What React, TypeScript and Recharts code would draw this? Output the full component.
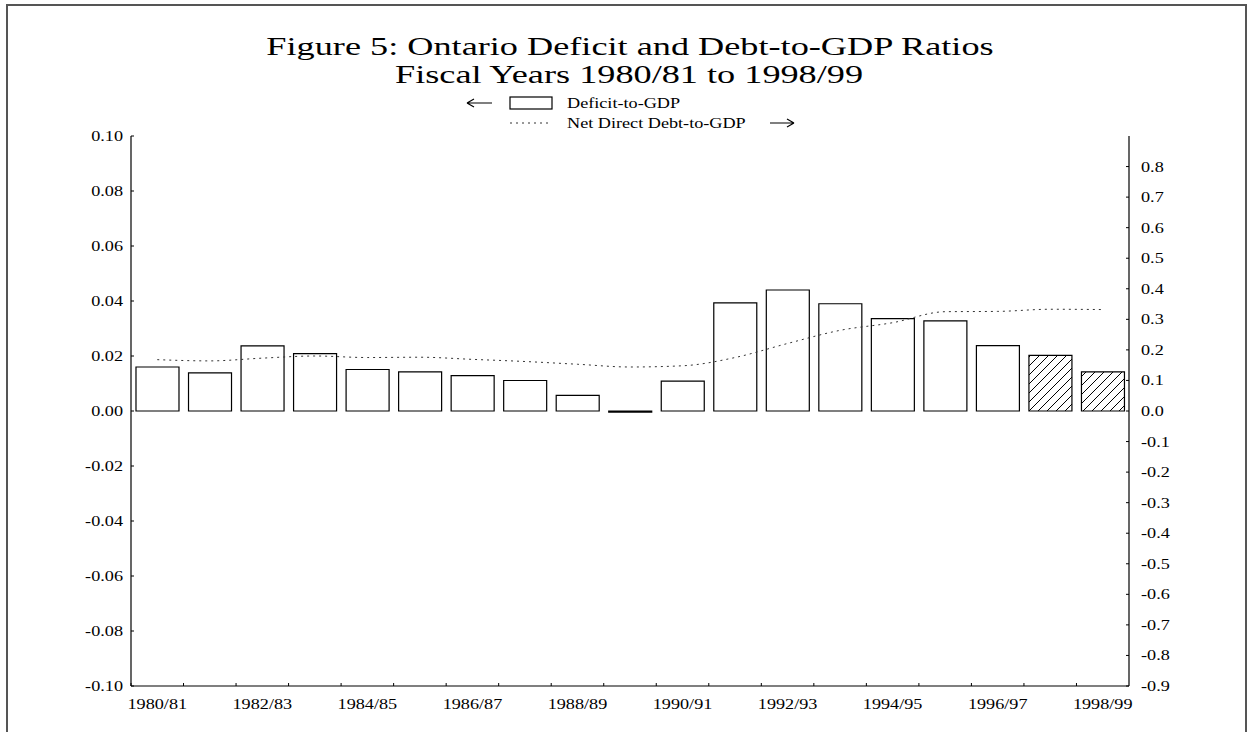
import {
  ComposedChart,
  Bar,
  Line,
  XAxis,
  YAxis,
  Legend,
  Cell,
} from "recharts";

const years = [
  "1980/81", "1981/82", "1982/83", "1983/84", "1984/85", "1985/86", "1986/87",
  "1987/88", "1988/89", "1989/90", "1990/91", "1991/92", "1992/93", "1993/94",
  "1994/95", "1995/96", "1996/97", "1997/98", "1998/99",
];

// deficit-to-GDP, left axis
const deficit = [
  0.016, 0.0139, 0.0237, 0.0209, 0.0151, 0.0142, 0.0129, 0.0111, 0.0057,
  -0.0004, 0.0109, 0.0393, 0.044, 0.039, 0.0336, 0.0328, 0.0238, 0.0202, 0.0142,
];

// net direct debt-to-GDP, right axis
const debt = [
  0.168, 0.164, 0.173, 0.18, 0.175, 0.176, 0.169, 0.162, 0.153, 0.144, 0.148,
  0.175, 0.221, 0.264, 0.289, 0.325, 0.326, 0.333, 0.332,
];

// years drawn hatched
const hatchedYears = ["1997/98", "1998/99"];

const leftTicks = [0.1, 0.08, 0.06, 0.04, 0.02, 0, -0.02, -0.04, -0.06, -0.08, -0.1];
const rightTicks = [0.8, 0.7, 0.6, 0.5, 0.4, 0.3, 0.2, 0.1, 0, -0.1, -0.2, -0.3, -0.4, -0.5, -0.6, -0.7, -0.8, -0.9];

const W = 1253;
const H = 732;
const LEFT_W = 131;
const RIGHT_W = 124;
const TOP = 136;
const X_H = 46;
const BAND = (W - LEFT_W - RIGHT_W) / years.length;
const FONT = "'Liberation Serif', 'Times New Roman', serif";

const data = years.map((year, i) => ({ year, deficit: deficit[i], debt: debt[i] }));

// the original figure's type is stretched sideways
function Txt({ x, y, anchor = "start", size = 14, sx = 1.3, children }: any) {
  return (
    <text
      transform={`translate(${x},${y}) scale(${sx},1)`}
      textAnchor={anchor}
      fontSize={size}
      fontFamily={FONT}
      fill="#000"
    >
      {children}
    </text>
  );
}

function fmt(v: number, d: number) {
  const s = v.toFixed(d);
  return Number(s) === 0 ? (0).toFixed(d) : s;
}

function LeftTick({ x, y, payload }: any) {
  return (
    <g>
      <line x1={x} x2={x + 3} y1={y} y2={y} stroke="#000" />
      <Txt x={x - 8} y={y + 5} anchor="end">{fmt(payload.value, 2)}</Txt>
    </g>
  );
}

function RightTick({ x, y, payload }: any) {
  return (
    <g>
      <line x1={x} x2={x - 3} y1={y} y2={y} stroke="#000" />
      <Txt x={x + 12} y={y + 5}>{fmt(payload.value, 1)}</Txt>
    </g>
  );
}

function XTick({ x, y, payload, index }: any) {
  const bx = x - BAND / 2;
  return (
    <g>
      <line x1={bx} x2={bx} y1={y} y2={y - 3} stroke="#000" />
      {index % 2 === 0 && (
        <Txt x={x} y={y + 23} anchor="middle">{payload.value}</Txt>
      )}
    </g>
  );
}

function LegendBox() {
  return (
    <svg width={W} height={50}>
      <path d="M467,19 H492 M467,19 l7,-4 M467,19 l7,4" stroke="#000" strokeWidth={1.2} fill="none" />
      <rect x={510} y={13} width={42} height={12} fill="#fff" stroke="#000" strokeWidth={1.2} />
      <Txt x={567} y={24}>Deficit-to-GDP</Txt>
      <line x1={510} x2={552} y1={39} y2={39} stroke="#333" strokeDasharray="2 4" />
      <Txt x={567} y={44}>Net Direct Debt-to-GDP</Txt>
      <path d="M770,39 H794 M794,39 l-7,-4 M794,39 l-7,4" stroke="#000" strokeWidth={1.2} fill="none" />
    </svg>
  );
}

export default function App() {
  return (
    <div style={{ position: "absolute", left: 0, top: 0, width: W, height: H, background: "#fff", overflow: "hidden" }}>
      <div
        style={{
          position: "absolute",
          left: 6,
          top: 4,
          width: 1241,
          height: 800,
          border: "2px solid #555",
          boxSizing: "border-box",
        }}
      />
      <svg style={{ position: "absolute", left: 0, top: 0 }} width={W} height={100}>
        <Txt x={630} y={55} anchor="middle" size={25} sx={1.45}>
          Figure 5: Ontario Deficit and Debt-to-GDP Ratios
        </Txt>
        <Txt x={629} y={83} anchor="middle" size={25} sx={1.45}>
          Fiscal Years 1980/81 to 1998/99
        </Txt>
      </svg>
      <div style={{ position: "absolute", left: 0, top: 0 }}>
        <ComposedChart
          width={W}
          height={H}
          data={data}
          margin={{ top: TOP, right: 0, bottom: 0, left: 0 }}
          barCategoryGap="9.5%"
        >
          <defs>
            <pattern id="hatch" patternUnits="userSpaceOnUse" width={9} height={9}>
              <rect width={9} height={9} fill="#fff" />
              <path d="M-2,2 l4,-4 M0,9 l9,-9 M7,11 l4,-4" stroke="#000" strokeWidth={1} />
            </pattern>
          </defs>
          <XAxis
            dataKey="year"
            height={X_H}
            interval={0}
            tickLine={false}
            tickSize={0}
            tickMargin={0}
            axisLine={{ stroke: "#000", strokeWidth: 1.2 }}
            tick={<XTick />}
          />
          <YAxis
            yAxisId="left"
            orientation="left"
            width={LEFT_W}
            domain={[-0.1, 0.1]}
            ticks={leftTicks}
            tickLine={false}
            tickSize={0}
            tickMargin={0}
            axisLine={{ stroke: "#000", strokeWidth: 1.2 }}
            tick={<LeftTick />}
          />
          <YAxis
            yAxisId="right"
            orientation="right"
            width={RIGHT_W}
            domain={[-0.9, 0.9]}
            ticks={rightTicks}
            tickLine={false}
            tickSize={0}
            tickMargin={0}
            axisLine={{ stroke: "#000", strokeWidth: 1.2 }}
            tick={<RightTick />}
          />
          <Legend
            layout="vertical"
            align="center"
            verticalAlign="middle"
            content={<LegendBox />}
            wrapperStyle={{ position: "absolute", top: 84, left: 0, width: W, height: 50 }}
          />
          <Bar
            yAxisId="left"
            dataKey="deficit"
            fill="#fff"
            stroke="#000"
            strokeWidth={1.2}
            isAnimationActive={false}
          >
            {data.map((d) => (
              <Cell key={d.year} fill={hatchedYears.includes(d.year) ? "url(#hatch)" : "#fff"} />
            ))}
          </Bar>
          <Line
            yAxisId="right"
            dataKey="debt"
            type="monotone"
            stroke="#333"
            strokeWidth={1}
            strokeDasharray="2 4"
            dot={false}
            activeDot={false}
            isAnimationActive={false}
          />
        </ComposedChart>
      </div>
    </div>
  );
}
